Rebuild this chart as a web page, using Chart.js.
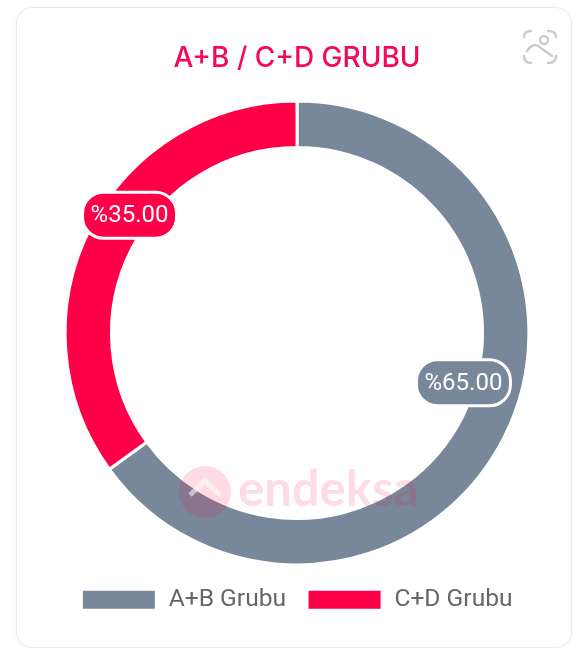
<!DOCTYPE html>
<html lang="tr">
<head>
<meta charset="utf-8">
<title>A+B / C+D GRUBU</title>
<script src="https://cdn.jsdelivr.net/npm/chart.js@4"></script>
<style>
    html, body { margin: 0; padding: 0; background: #fff; }
    body { width: 575px; height: 650px; overflow: hidden; position: relative; }
    .card {
        position: absolute; left: 16px; top: 7px; width: 556px; height: 641px;
        border: 1px solid #e9eaec; border-radius: 16px; box-sizing: border-box;
        box-shadow: 0 0 3px rgba(0, 0, 0, 0.06);
    }
    #myChart { position: absolute; left: 0; top: 0; }
    .scan { position: absolute; left: 521px; top: 27px; }
</style>
</head>
<body>
<div class="card"></div>
<canvas id="myChart" width="575" height="650"></canvas>
<svg class="scan" width="40" height="40" viewBox="0 0 40 40" fill="none" stroke="#c9cbce" stroke-width="2.4" stroke-linecap="round">
    <path d="M3 10 Q3 4 10 4 M27 4 Q35 4 35 10 M3 29 Q3 36 10 36 M35 29 Q35 36 27 36"/>
    <circle cx="23" cy="13" r="4"/>
    <path d="M6 24 Q13 14 20 21 L31 29"/>
</svg>
<script>
const categories = ['A+B Grubu', 'C+D Grubu'];
const values = [65, 35];
const valueLabels = ['%65.00', '%35.00'];
const sliceColors = ['#78879a', '#ff0048'];

// Etiketler dilimin ortasinda durmuyor, orijinale gore kaydirildi
const labelOffsets = [[-19.5, -45], [18.5, -23]];

const ringLabels = {
    id: 'ringLabels',
    afterDatasetsDraw(chart) {
        const ctx = chart.ctx;
        const arcs = chart.getDatasetMeta(0).data;

        // filigran
        ctx.save();
        ctx.fillStyle = 'rgba(255, 0, 72, 0.14)';
        ctx.beginPath();
        ctx.arc(205, 492, 26, 0, Math.PI * 2);
        ctx.fill();
        ctx.strokeStyle = 'rgba(255, 255, 255, 0.55)';
        ctx.lineWidth = 5;
        ctx.beginPath();
        ctx.moveTo(190, 495);
        ctx.lineTo(205, 481);
        ctx.lineTo(220, 495);
        ctx.stroke();
        ctx.font = 'bold 49px Lato';
        ctx.textBaseline = 'alphabetic';
        ctx.fillText('endeksa', 238, 506);
        ctx.restore();

        arcs.forEach((arc, i) => {
            const c = arc.tooltipPosition();
            const x = c.x + labelOffsets[i][0];
            const y = c.y + labelOffsets[i][1];
            ctx.save();
            ctx.beginPath();
            ctx.roundRect(x - 47, y - 23, 94, 46, 21);
            ctx.fillStyle = sliceColors[i];
            ctx.fill();
            ctx.lineWidth = 3;
            ctx.strokeStyle = '#fff';
            ctx.stroke();
            ctx.fillStyle = '#fff';
            ctx.font = '24px Roboto';
            ctx.textAlign = 'center';
            ctx.textBaseline = 'middle';
            ctx.fillText(valueLabels[i], x, y + 1);
            ctx.restore();
        });
    }
};

const ctx = document.getElementById('myChart').getContext('2d');

new Chart(ctx, {
    type: 'doughnut',
    data: {
        labels: categories,
        datasets: [{
            data: values,
            backgroundColor: sliceColors,
            borderColor: '#fff',
            borderWidth: 3
        }]
    },
    options: {
        responsive: false,
        animation: false,
        cutout: '80%',
        layout: {
            padding: { left: 19, right: 0, top: 42, bottom: 28 }
        },
        plugins: {
            title: {
                display: true,
                text: 'A+B / C+D GRUBU',
                color: '#f5075a',
                font: { family: 'Inter', size: 28, weight: '500' },
                padding: { top: 0, bottom: 24 }
            },
            legend: {
                display: true,
                position: 'bottom',
                labels: {
                    boxWidth: 75,
                    boxHeight: 21,
                    color: '#666',
                    font: { family: 'Roboto', size: 24.6 },
                    padding: 21
                }
            },
            tooltip: { enabled: false }
        }
    },
    plugins: [ringLabels]
});
</script>
</body>
</html>
